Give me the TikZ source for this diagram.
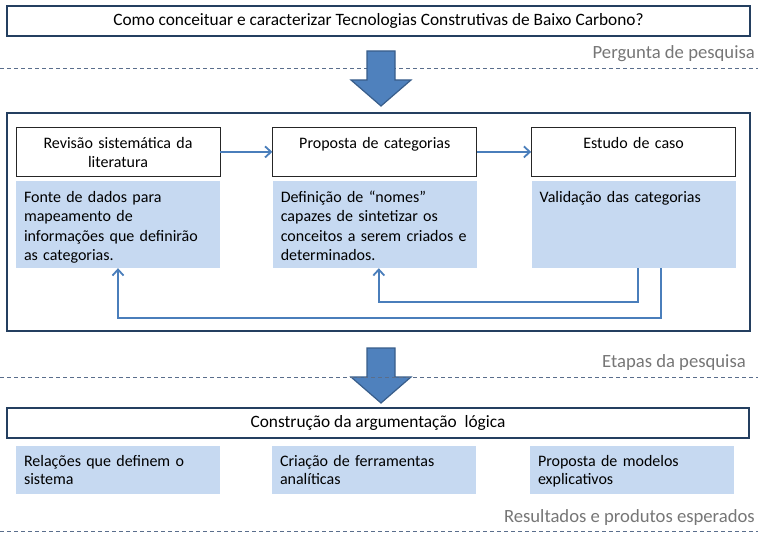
\documentclass[tikz,border=0pt]{standalone}
\usepackage{fontspec}
\setmainfont{Carlito}
\usetikzlibrary{arrows.meta,positioning}

\definecolor{azulEscuro}{RGB}{36,63,96}
\definecolor{azulClaro}{RGB}{198,217,241}
\definecolor{azulSeta}{RGB}{79,129,189}
\definecolor{bordaSeta}{RGB}{56,93,138}
\definecolor{azulLinha}{RGB}{74,126,187}
\definecolor{cinzaTexto}{RGB}{118,118,118}
\definecolor{cinzaTraco}{RGB}{90,110,140}

\newcommand{\fonteCorpo}{\fontsize{16}{19.3}\selectfont}
\newcommand{\fonteCaixa}{\fontsize{17.33}{20}\selectfont}
\newcommand{\fonteRotulo}{\fontsize{18.67}{22}\selectfont}

\begin{document}
\begin{tikzpicture}[x=1pt,y=-1pt,>={Straight Barb[length=6pt,width=11pt]},font=\fonteCorpo]
        \tikzstyle{caixa}=[rectangle,draw=azulEscuro,line width=2.5pt,inner sep=0pt,font=\fonteCaixa]
        \tikzstyle{cabec}=[rectangle,draw=black!85,line width=0.8pt,fill=white,text width=190pt,align=center,inner xsep=7pt,inner ysep=0pt,text height=21pt,text depth=28pt]
        \tikzstyle{corpo}=[rectangle,fill=azulClaro,text width=188pt,align=left,inner xsep=8pt,inner ysep=0pt,text height=21.5pt,text depth=65.5pt]
        \tikzstyle{corpoBaixo}=[corpo,anchor=north,font=\fontsize{16}{18.5}\selectfont,text height=20pt,text depth=28pt]
        \tikzstyle{rotulo}=[anchor=east,text=cinzaTexto,font=\fonteRotulo,inner sep=0pt]
        \tikzstyle{tracejado}=[draw=cinzaTraco,line width=0.8pt,dash pattern=on 4pt off 3pt]
        \tikzstyle{seta}=[draw=bordaSeta,fill=azulSeta,line width=1.2pt,line join=miter]
        \tikzstyle{ligacao}=[draw=azulLinha,line width=1.8pt,->]

        \useasboundingbox (0,0) rectangle (758,540);

        \node [caixa, minimum width=743pt, minimum height=30pt] (pergunta) at (378.5,21) {Como conceituar e caracterizar Tecnologias Construtivas de Baixo Carbono?}; %pergunta
        \node [rotulo] (rotPergunta) at (755,54) {Pergunta de pesquisa};
        \draw [tracejado] (0,68) -- (758,68);

        \foreach \y in {51,348}                   %setas grandes
            \draw [seta] (367,\y) -- ++(28,0) -- ++(0,29) -- ++(16,0) -- ++(-30,26) -- ++(-30,-26) -- ++(16,0) -- cycle;

        \node [caixa, minimum width=743pt, minimum height=218pt] (etapas) at (378.5,222) {}; %etapas
        \node [cabec, anchor=north] (revisao) at (118,127) {Revisão sistemática da\\literatura};
        \node [cabec] (proposta) [right=52pt of revisao] {Proposta de categorias};
        \node [cabec] (estudo) [right=54pt of proposta] {Estudo de caso};
        \node [corpo] (fonte) [below=4pt of revisao] {Fonte de dados para\\mapeamento de\\informações que definirão\\as categorias.};
        \node [corpo] (defin) [below=4pt of proposta] {Definição de “nomes”\\capazes de sintetizar os\\conceitos a serem criados e\\determinados.};
        \node [corpo] (valid) [below=4pt of estudo] {Validação das categorias};
        \draw [ligacao] (revisao) -- (proposta);
        \draw [ligacao] (proposta) -- (estudo);
        \draw [ligacao] ([xshift=4pt]valid.south) -- ++(0,34) -| ([xshift=4pt]defin.south);
        \draw [ligacao] ([xshift=27pt]valid.south) -- ++(0,50) -| (fonte.south);
        \node [rotulo] (rotEtapas) at (746,363) {Etapas da pesquisa};
        \draw [tracejado] (0,377) -- (758,377);

        \node [caixa, minimum width=742pt, minimum height=30pt] (constr) at (378,423) {Construção da argumentação\ \ lógica}; %resultados
        \node [corpoBaixo] (relacoes) at (118,446) {Relações que definem o\\sistema};
        \node [corpoBaixo] (criacao) at (374,446) {Criação de ferramentas\\analíticas};
        \node [corpoBaixo] (modelos) at (632,446) {Proposta de modelos\\explicativos};
        \node [rotulo] (rotResult) at (755,518) {Resultados e produtos esperados};
        \draw [tracejado] (0,531) -- (758,531);
    \end{tikzpicture}
\end{document}
